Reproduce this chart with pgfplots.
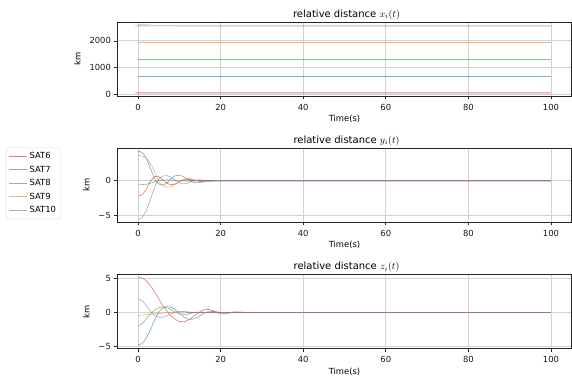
\documentclass[border=0pt]{standalone}
\usepackage{fontspec}
\setmainfont{DejaVu Sans}
\usepackage{pgfplots}
\pgfplotsset{compat=1.18}
\definecolor{cR}{HTML}{D62728}
\definecolor{cB}{HTML}{1F77B4}
\definecolor{cG}{HTML}{2CA02C}
\definecolor{cO}{HTML}{FF7F0E}
\definecolor{cP}{HTML}{9467BD}
\pgfplotsset{
  myax/.style={
    scale only axis, width=454.2bp, height=73.8bp,
    anchor=north west,
    xmin=-5, xmax=105,
    xtick={0,20,40,60,80,100},
    tick align=outside, xtick pos=bottom, ytick pos=left,
    major tick length=3bp,
    tick style={black!85, line width=0.6bp},
    axis line style={black!85, line width=0.6bp},
    grid=major, major grid style={gray!35, line width=0.8bp},
    ticklabel style={font=\fontsize{8.4bp}{10bp}\selectfont, text=black!90},
    xticklabel style={yshift=-1.5bp},
    /pgf/number format/assume math mode=true,
    /pgf/number format/1000 sep={},
    xlabel={Time(s)}, ylabel={km},
    label style={font=\fontsize{8.4bp}{10bp}\selectfont},
    xlabel style={at={(axis description cs:0.5,0)}, anchor=center, yshift=-23bp},
    ylabel style={yshift=2bp},
    title style={font=\fontsize{10bp}{12bp}\selectfont, yshift=-7bp, xshift=2bp},
    every axis plot/.append style={line width=0.65bp, opacity=0.6, smooth},
  }
}
\begin{document}
\begin{tikzpicture}
\path[use as bounding box] (0,0) rectangle (572bp,-381bp);
% ---- x ----
\begin{axis}[myax, at={(117.4bp,-22.3bp)},
  ymin=-60, ymax=2690, ytick={0,1000,2000},
  title={relative distance $\mathsurround=0pt\displaystyle x_i(t)$}]
\addplot[cR, line width=1.5bp, opacity=0.35] coordinates {(0,68) (3,60) (6,57) (100,57)};
\addplot[cB] coordinates {(0,684) (100,684)};
\addplot[cG] coordinates {(0,1316) (100,1316)};
\addplot[cO] coordinates {(0,1946) (100,1946)};
\addplot[cP, line width=1.5bp, opacity=0.35] coordinates {(0,2600) (3,2580) (6,2562) (100,2560)};
\end{axis}
% ---- y ----
\begin{axis}[myax, at={(117.4bp,-148.3bp)},
  ymin=-6.0, ymax=4.72, ytick={-5,0}, yticklabels={−5,0},
  title={relative distance $y_i(t)$},
  legend style={at={(-0.2454,1.0136)}, anchor=north west,
    font=\fontsize{8.4bp}{10bp}\selectfont, draw=gray!30, rounded corners=2bp,
    row sep=1.8bp, inner sep=2.8bp, cells={anchor=west}},
  legend image code/.code={\draw[#1, opacity=0.6] (0bp,0bp) -- (18bp,0bp);}]
\addplot[cR] coordinates {(0,-2.2) (1,-2.0) (2,-1.2) (3,-0.1) (4,0.6) (5,0.6) (6,0.15) (7,-0.35) (8,-0.55) (9,-0.45) (10,-0.15) (11,0.15) (12,0.25) (13,0.15) (14,0.0) (15,-0.08) (16,-0.05) (17,0) (18,0) (100,0)};
\addlegendentry{SAT6}
\addplot[cB] coordinates {(0,4.3) (1,4.1) (2,3.3) (3,1.8) (4,0.3) (5,-0.45) (6,-0.6) (7,-0.3) (8,0.3) (9,0.75) (10,0.8) (11,0.6) (12,0.25) (13,-0.1) (14,-0.3) (15,-0.25) (16,-0.1) (17,0.05) (18,0.08) (19,0.03) (20,0) (21,0) (100,0)};
\addlegendentry{SAT7}
\addplot[cG] coordinates {(0,-0.55) (1,-0.55) (2,-0.5) (3,-0.35) (4,-0.15) (5,0.0) (6,0.1) (7,0.15) (8,0.12) (9,0.05) (10,0) (11,-0.03) (12,-0.03) (14,0) (15,0) (100,0)};
\addlegendentry{SAT8}
\addplot[cO] coordinates {(0,3.7) (1,3.6) (2,3.3) (3,2.5) (4,1.3) (5,-0.1) (6,-0.7) (7,-0.9) (8,-0.85) (9,-0.55) (10,-0.15) (11,0.2) (12,0.35) (13,0.3) (14,0.1) (15,-0.1) (16,-0.15) (17,-0.08) (18,0.0) (19,0.03) (20,0.02) (22,0) (23,0) (100,0)};
\addlegendentry{SAT9}
\addplot[cP] coordinates {(0,-5.6) (1,-5.3) (2,-4.3) (3,-2.7) (4,-1.0) (5,0.2) (6,0.7) (7,0.75) (8,0.5) (9,0.1) (10,-0.3) (11,-0.45) (12,-0.35) (13,-0.1) (14,0.1) (15,0.15) (16,0.08) (17,-0.02) (18,-0.04) (19,0) (20,0) (100,0)};
\addlegendentry{SAT10}
\end{axis}
% ---- z ----
\begin{axis}[myax, at={(117.4bp,-274.7bp)},
  ymin=-5.25, ymax=5.5, ytick={-5,0,5}, yticklabels={−5,0,5},
  title={relative distance $z_i(t)$}]
\addplot[cR] coordinates {(0,5.1) (1,5.0) (2,4.6) (3,3.9) (4,3.0) (5,2.0) (6,1.0) (7,0.2) (8,-0.5) (9,-1.0) (10,-1.3) (11,-1.35) (12,-1.15) (13,-0.75) (14,-0.3) (15,0.1) (16,0.38) (17,0.45) (18,0.3) (19,0.0) (20,-0.18) (21,-0.2) (22,-0.1) (23,0.05) (24,0.08) (25,0.03) (27,0) (28,0) (100,0)};
\addplot[cB] coordinates {(0,-4.75) (1,-4.5) (2,-3.7) (3,-2.5) (4,-1.1) (5,0.05) (6,0.65) (7,0.85) (8,0.75) (9,0.4) (10,-0.1) (11,-0.6) (12,-0.95) (13,-1.0) (14,-0.8) (15,-0.45) (16,-0.1) (17,0.1) (18,0.15) (19,0.1) (20,0.0) (21,-0.05) (22,-0.02) (23,0.03) (24,0.05) (25,0.03) (27,0) (28,0) (100,0)};
\addplot[cG] coordinates {(0,-1.95) (1,-1.6) (2,-0.9) (3,-0.2) (4,0.35) (5,0.7) (6,0.8) (7,0.7) (8,0.4) (9,0.05) (10,-0.2) (11,-0.3) (12,-0.25) (13,-0.1) (14,0.02) (15,0.05) (16,0.02) (17,0) (18,0) (100,0)};
\addplot[cO] coordinates {(0,-0.4) (1,-0.38) (2,-0.33) (3,-0.27) (4,-0.2) (5,-0.14) (6,-0.08) (7,-0.03) (8,0.01) (9,0.04) (10,0.05) (12,0.04) (14,0.02) (16,0.0) (18,-0.02) (20,0) (21,0) (100,0)};
\addplot[cP] coordinates {(0,2.0) (1,1.7) (2,1.0) (3,0.2) (4,-0.4) (5,-0.7) (6,-0.7) (7,-0.5) (8,-0.2) (9,0.05) (10,0.15) (11,0.15) (12,0.08) (13,0.0) (14,-0.03) (16,0) (17,0) (100,0)};
\end{axis}
\end{tikzpicture}
\end{document}
